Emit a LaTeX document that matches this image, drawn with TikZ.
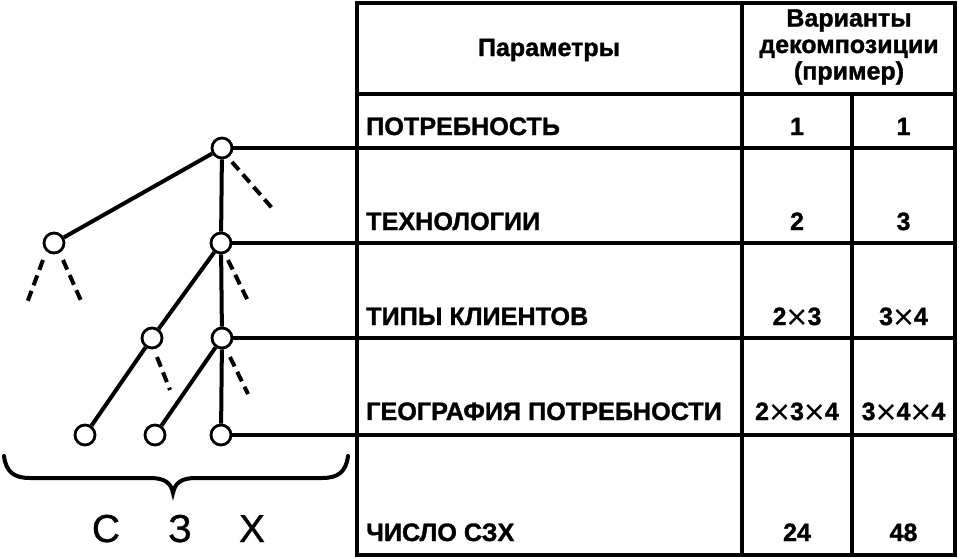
\documentclass[tikz,border=0pt]{standalone}
\usepackage{fontspec}
\setmainfont{Liberation Sans}[BoldFeatures={FakeBold=1.3}]
\newfontfamily\medf{Liberation Sans}[FakeBold=0.8]
\newcommand{\mx}{\raisebox{-4.5pt}{\fontsize{36}{36}\selectfont\mdseries ×}}
\begin{document}
\begin{tikzpicture}[x=1pt,y=-1pt,
  tline/.style={line width=4pt},
  nd/.style={circle, draw, line width=2.8pt, minimum size=20pt, inner sep=0pt, fill=white},
  dsh/.style={line width=4pt, dash pattern=on 10.5pt off 6pt},
  hdr/.style={font=\bfseries\fontsize{25}{26.5}\selectfont, inner sep=0pt},
  lbl/.style={font=\bfseries\fontsize{25.2}{26}\selectfont, anchor=base west, inner sep=0pt},
  num/.style={font=\bfseries\fontsize{25}{26}\selectfont, anchor=base, inner sep=0pt},
  big/.style={font=\medf\fontsize{39}{40}\selectfont, anchor=base, inner sep=0pt}]
\useasboundingbox (0,0) rectangle (977,558);
% table frame
\draw[tline, line join=miter] (357,3) rectangle (955,555);
\draw[tline] (742,3) -- (742,555);
\draw[tline] (852,94) -- (852,555);
\draw[tline] (357,94) -- (955,94);
% tree nodes
\node[nd] (R) at (222,148) {};
\node[nd] (L) at (54,243) {};
\node[nd] (M) at (221,243) {};
\node[nd] (A) at (152,338) {};
\node[nd] (B) at (222,338) {};
\node[nd] (C1) at (85,435) {};
\node[nd] (C2) at (155,435) {};
\node[nd] (C3) at (221,435) {};
% row ends
\coordinate (e1) at (955,148);
\coordinate (e2) at (955,243);
\coordinate (e3) at (955,338);
\coordinate (e4) at (955,435);
\draw[tline] (R) -- (e1);
\draw[tline] (M) -- (e2);
\draw[tline] (B) -- (e3);
\draw[tline] (C3) -- (e4);
% tree edges
\draw[tline] (R) -- (L);
\draw[tline] (R) -- (M);
\draw[tline] (M) -- (A);
\draw[tline] (M) -- (B);
\draw[tline] (A) -- (C1);
\draw[tline] (B) -- (C2);
\draw[tline] (B) -- (C3);
% dashed stubs
\coordinate (d1a) at (232,162); \coordinate (d1b) at (272,208);
\coordinate (d2a) at (43,260);  \coordinate (d2b) at (27,303);
\coordinate (d3a) at (63,260);  \coordinate (d3b) at (82,303);
\coordinate (d4a) at (228,260); \coordinate (d4b) at (249,303);
\coordinate (d5a) at (157,357); \coordinate (d5b) at (170,390);
\coordinate (d6a) at (230,357); \coordinate (d6b) at (248,394);
\draw[dsh] (d1a) -- (d1b);
\draw[dsh] (d2a) -- (d2b);
\draw[dsh] (d3a) -- (d3b);
\draw[dsh] (d4a) -- (d4b);
\draw[dsh] (d5a) -- (d5b);
\draw[dsh] (d6a) -- (d6b);
% brace
\draw[line width=4pt, line cap=round] (4,456) .. controls (6,472) and (14,478) .. (30,478) -- (150,478) .. controls (165,478) and (171,483) .. (173,493) .. controls (175,483) and (181,478) .. (196,478) -- (322,478) .. controls (338,478) and (346,472) .. (348,456);
\node[big] (s1) at (106,542) {С};
\node[big] (s2) at (180,542) {З};
\node[big] (s3) at (252,542) {Х};
% header
\node[hdr] (hp) at (549,50) {Параметры};
\node[hdr, align=center] (hv) at (849,47) {Варианты\\декомпозиции\\(пример)};
% rows
\node[lbl] (r1) at (366,135) {ПОТРЕБНОСТЬ};
\node[lbl] (r2) at (366,230) {ТЕХНОЛОГИИ};
\node[lbl] (r3) at (366,325) {ТИПЫ КЛИЕНТОВ};
\node[lbl] (r4) at (366,420) {ГЕОГРАФИЯ ПОТРЕБНОСТИ};
\node[lbl] (r5) at (366,541) {ЧИСЛО СЗХ};
\node[num] (a1) at (797,135) {1};
\node[num] (b1) at (903.5,135) {1};
\node[num] (a2) at (797,230) {2};
\node[num] (b2) at (903.5,230) {3};
\node[num] (a3) at (797,325) {2\mx3};
\node[num] (b3) at (903.5,325) {3\mx4};
\node[num] (a4) at (797,420) {2\mx3\mx4};
\node[num] (b4) at (903.5,420) {3\mx4\mx4};
\node[num] (a5) at (797,541) {24};
\node[num] (b5) at (903.5,541) {48};
\end{tikzpicture}
\end{document}
